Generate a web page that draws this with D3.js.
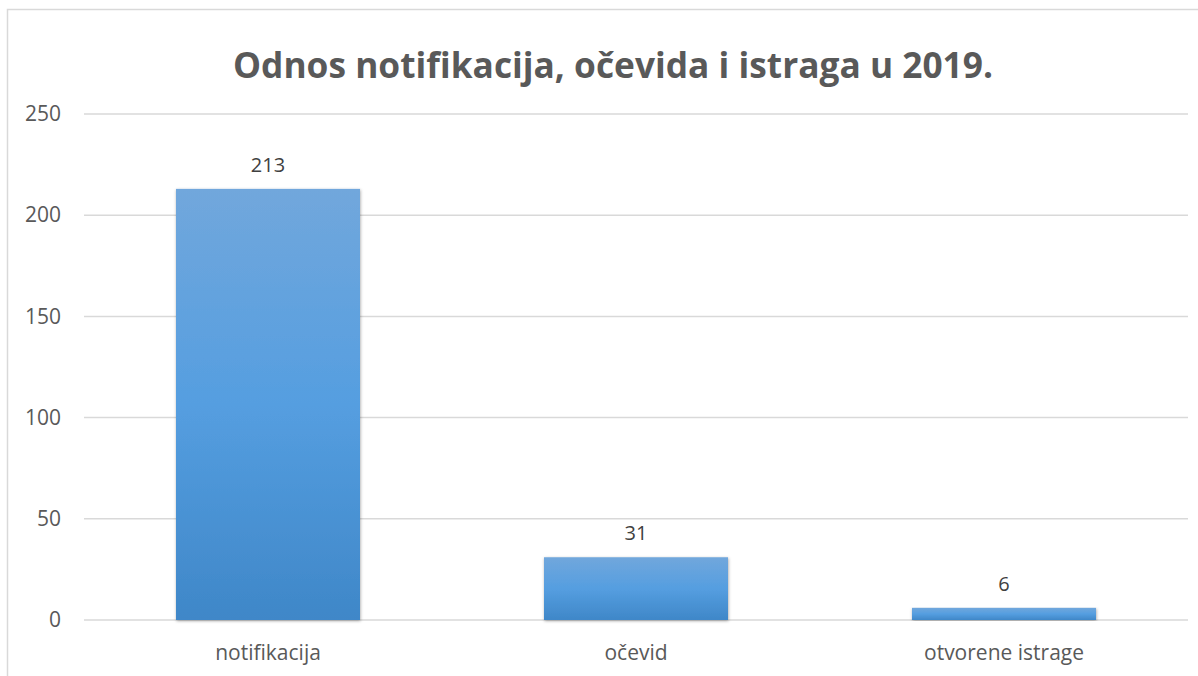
<!DOCTYPE html>
<html>
<head>
<meta charset="utf-8">
<script src="https://cdn.jsdelivr.net/npm/d3@7"></script>
<style>
  body { margin: 0; background: #fff; }
  text { font-family: "Open Sans", "Noto Sans", sans-serif; }
</style>
</head>
<body>
<svg id="chart" width="1198" height="676"></svg>
<script>
// chart data
var categories = ["notifikacija", "očevid", "otvorene istrage"];
var values = [213, 31, 6];
var yTicks = [0, 50, 100, 150, 200, 250];
var title = "Odnos notifikacija, očevida i istraga u 2019.";

var svg = d3.select("#chart");
var margin = {left: 84, right: 10, top: 114, bottom: 56};
var width = 1198 - margin.left - margin.right;   // plot runs 84 .. 1188
var height = 676 - margin.top - margin.bottom;    // plot runs 114 .. 620

// outer frame (only top and left edge show in the picture)
svg.append("path")
    .attr("d", "M7.5,676 V9.5 H1198")
    .attr("fill", "none")
    .attr("stroke", "#d9d9d9")
    .attr("stroke-width", 1.5);

var defs = svg.append("defs");
var grad = defs.append("linearGradient")
    .attr("id", "barGrad")
    .attr("x1", 0).attr("y1", 0).attr("x2", 0).attr("y2", 1);
grad.append("stop").attr("offset", "0%").attr("stop-color", "#71a7dc");
grad.append("stop").attr("offset", "50%").attr("stop-color", "#559ee0");
grad.append("stop").attr("offset", "100%").attr("stop-color", "#3f87c8");

var shadow = defs.append("filter")
    .attr("id", "shadow")
    .attr("x", "-5%").attr("y", "-5%").attr("width", "110%").attr("height", "110%");
shadow.append("feDropShadow")
    .attr("dx", 0.5).attr("dy", 1)
    .attr("stdDeviation", 1.5)
    .attr("flood-color", "#000")
    .attr("flood-opacity", 0.35);

var g = svg.append("g")
    .attr("transform", "translate(" + margin.left + "," + margin.top + ")");

var x = d3.scaleBand()
    .domain(categories)
    .range([0, width])
    .paddingInner(0.5)
    .paddingOuter(0.25);

var y = d3.scaleLinear()
    .domain([0, 250])
    .range([height, 0]);

// gridlines
g.append("g")
    .attr("class", "grid")
    .selectAll("line")
    .data(yTicks)
    .join("line")
    .attr("x1", 0)
    .attr("x2", width)
    .attr("y1", d => y(d))
    .attr("y2", d => y(d))
    .attr("stroke", "#d9d9d9")
    .attr("stroke-width", 1.5);

// y axis labels
var yAxis = g.append("g")
    .call(d3.axisLeft(y).tickValues(yTicks).tickSize(0).tickPadding(23));
yAxis.select(".domain").remove();
yAxis.selectAll("text")
    .attr("fill", "#595959")
    .style("font-size", "21px")
    .style("font-family", "'Open Sans', 'Noto Sans', sans-serif");

// bars
g.selectAll("rect.bar")
    .data(values)
    .join("rect")
    .attr("class", "bar")
    .attr("x", (d, i) => x(categories[i]))
    .attr("y", d => y(d))
    .attr("width", x.bandwidth())
    .attr("height", d => height - y(d))
    .attr("fill", "url(#barGrad)")
    .attr("filter", "url(#shadow)");

// value labels
g.selectAll("text.val")
    .data(values)
    .join("text")
    .attr("class", "val")
    .attr("x", (d, i) => x(categories[i]) + x.bandwidth() / 2)
    .attr("y", d => y(d) - 17)
    .attr("text-anchor", "middle")
    .attr("fill", "#404040")
    .style("font-size", "20px")
    .text(d => d);

// x axis labels
var xAxis = g.append("g")
    .attr("transform", "translate(0," + height + ")")
    .call(d3.axisBottom(x).tickSize(0).tickPadding(25));
xAxis.select(".domain").remove();
xAxis.selectAll("text")
    .attr("fill", "#595959")
    .style("font-size", "21px")
    .style("font-family", "'Open Sans', 'Noto Sans', sans-serif");

// title
svg.append("text")
    .attr("x", 613)
    .attr("y", 78)
    .attr("text-anchor", "middle")
    .attr("fill", "#595959")
    .attr("textLength", 760)
    .attr("lengthAdjust", "spacingAndGlyphs")
    .style("font-size", "35px")
    .style("font-weight", "bold")
    .text(title);
</script>
</body>
</html>
